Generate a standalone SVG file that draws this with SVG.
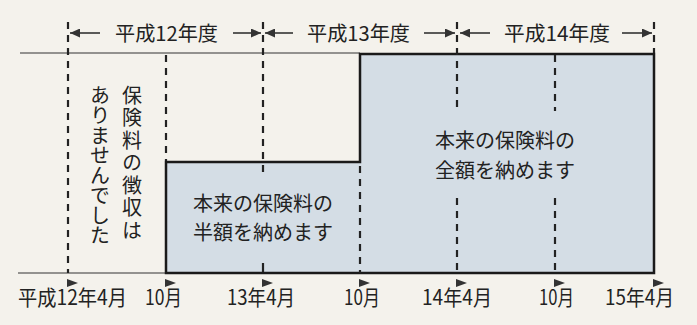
<svg xmlns="http://www.w3.org/2000/svg" width="697" height="325" viewBox="0 0 697 325">
<defs>
<style>
.bg{fill:#f4f2ec}
.thin{stroke:#333;stroke-width:1.2;fill:none}
.dash{stroke:#222;stroke-width:2.2;stroke-dasharray:7 6;fill:none}
.solid{stroke:#222;stroke-width:2.2;fill:none}
.area{fill:#d4dde5;stroke:#1a1a1a;stroke-width:2.5;stroke-linejoin:miter}
.arr{stroke:#333;stroke-width:1.6;fill:none;marker-end:url(#ah)}
.tri{fill:#333}
text{font-family:"Noto Sans CJK JP","Noto Sans CJK SC",sans-serif;fill:#222}
.hd{font-size:20px}
.ax{font-size:21px}
.lb{font-size:20px}
.vt{font-size:20px;writing-mode:vertical-rl}
</style>
<marker id="ah" markerUnits="userSpaceOnUse" markerWidth="11" markerHeight="9" refX="10" refY="4.5" orient="auto">
<path d="M0,0 L10,4.5 L0,9 z" fill="#333"/>
</marker>
</defs>
<rect class="bg" x="0" y="0" width="697" height="325"/>

<g id="baselines">
<line class="thin" x1="20" y1="53" x2="360" y2="53"/>
<line class="thin" x1="18" y1="273" x2="166" y2="273"/>
</g>

<g id="payment-area">
<path class="area" d="M166,273 L166,162 L360,162 L360,54 L654,54 L654,273 Z"/>
</g>

<g id="gridlines">
<line class="dash" x1="68" y1="22" x2="68" y2="273"/>
<line class="dash" x1="166" y1="55" x2="166" y2="161"/>
<line class="dash" x1="263" y1="22" x2="263" y2="176"/>
<line class="solid" x1="263" y1="263" x2="263" y2="272"/>
<line class="dash" x1="360" y1="166" x2="360" y2="273"/>
<line class="dash" x1="457" y1="22" x2="457" y2="111"/>
<line class="dash" x1="457" y1="198" x2="457" y2="273"/>
<line class="dash" x1="555" y1="55" x2="555" y2="111"/>
<line class="dash" x1="555" y1="198" x2="555" y2="273"/>
<line class="dash" x1="654" y1="22" x2="654" y2="53"/>
</g>

<g id="connectors">
<line class="arr" x1="100" y1="33" x2="70" y2="33"/>
<line class="arr" x1="233" y1="33" x2="261" y2="33"/>
<line class="arr" x1="293" y1="33" x2="265" y2="33"/>
<line class="arr" x1="424" y1="33" x2="455" y2="33"/>
<line class="arr" x1="490" y1="33" x2="460" y2="33"/>
<line class="arr" x1="622" y1="33" x2="652" y2="33"/>
</g>

<g id="ticks">
<polygon class="tri" points="67,279 78,283 67,287"/>
<polygon class="tri" points="165,279 176,283 165,287"/>
<polygon class="tri" points="262,279 273,283 262,287"/>
<polygon class="tri" points="359,279 370,283 359,287"/>
<polygon class="tri" points="456,279 467,283 456,287"/>
<polygon class="tri" points="554,279 565,283 554,287"/>
<polygon class="tri" points="653,279 664,283 653,287"/>
</g>

<g id="year-headers">
<text class="hd" x="115" y="41" textLength="103" lengthAdjust="spacingAndGlyphs">平成12年度</text>
<text class="hd" x="307" y="41" textLength="103" lengthAdjust="spacingAndGlyphs">平成13年度</text>
<text class="hd" x="504" y="41" textLength="106" lengthAdjust="spacingAndGlyphs">平成14年度</text>
</g>

<g id="axis-labels">
<text class="ax" x="18" y="305" textLength="109" lengthAdjust="spacingAndGlyphs">平成12年4月</text>
<text class="ax" x="145" y="305" textLength="37" lengthAdjust="spacingAndGlyphs">10月</text>
<text class="ax" x="227" y="305" textLength="68" lengthAdjust="spacingAndGlyphs">13年4月</text>
<text class="ax" x="344" y="305" textLength="36" lengthAdjust="spacingAndGlyphs">10月</text>
<text class="ax" x="422" y="305" textLength="70" lengthAdjust="spacingAndGlyphs">14年4月</text>
<text class="ax" x="539" y="305" textLength="35" lengthAdjust="spacingAndGlyphs">10月</text>
<text class="ax" x="605" y="305" textLength="69" lengthAdjust="spacingAndGlyphs">15年4月</text>
</g>

<g id="no-collection">
<text class="vt" x="132" y="85" letter-spacing="2.5">保険料の徴収は</text>
<text class="vt" x="100" y="85" letter-spacing="0">ありませんでした</text>
</g>

<g id="half-payment">
<text class="lb" x="193" y="211" textLength="140" lengthAdjust="spacingAndGlyphs">本来の保険料の</text>
<text class="lb" x="193" y="240" textLength="140" lengthAdjust="spacingAndGlyphs">半額を納めます</text>
</g>

<g id="full-payment">
<text class="lb" x="435" y="148" textLength="140" lengthAdjust="spacingAndGlyphs">本来の保険料の</text>
<text class="lb" x="435" y="178" textLength="140" lengthAdjust="spacingAndGlyphs">全額を納めます</text>
</g>
</svg>
